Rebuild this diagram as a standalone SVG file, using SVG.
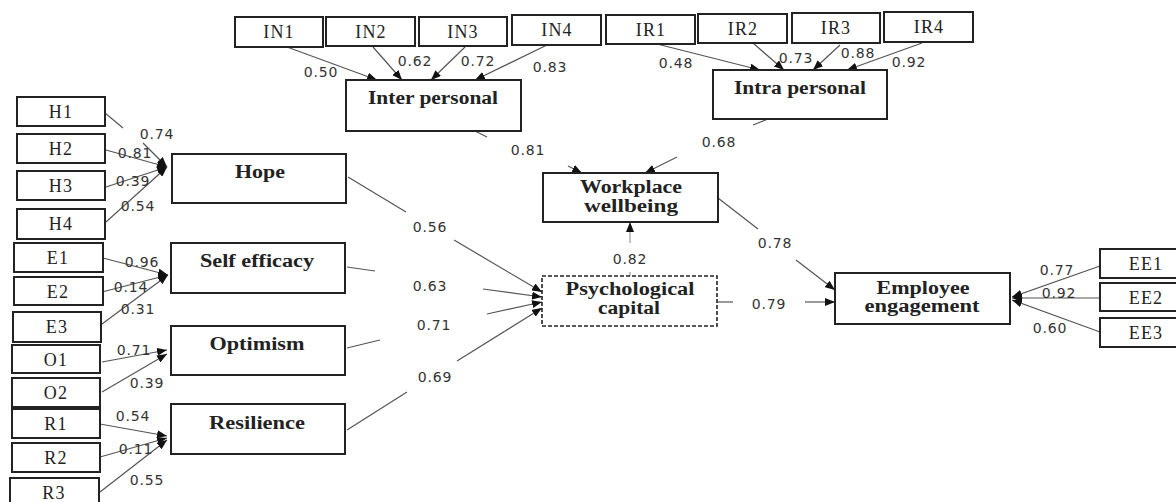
<svg xmlns="http://www.w3.org/2000/svg" width="1176" height="502" viewBox="0 0 1176 502">
<style>
.box{fill:#fff;stroke:#222;stroke-width:2}
.dash{fill:#fff;stroke:#222;stroke-width:1.6;stroke-dasharray:4 2}
.ind{font-family:"Liberation Serif",serif;font-size:18px;fill:#222;text-anchor:middle;letter-spacing:1.2px}
.lat{font-family:"Liberation Serif",serif;font-size:18px;font-weight:bold;fill:#222;text-anchor:middle}
.num{font-family:"DejaVu Sans",sans-serif;font-size:14px;fill:#333;text-anchor:middle;letter-spacing:0.8px}
.ln{stroke:#555;stroke-width:1.2;fill:none}
.ar{marker-end:url(#ah)}
</style>
<defs>
<marker id="ah" markerUnits="userSpaceOnUse" markerWidth="10" markerHeight="8" refX="10" refY="4" orient="auto">
<path d="M0,0 L10,4 L0,8 z" fill="#111"/>
</marker>
</defs>
<rect width="1176" height="502" fill="#fff"/>

<g id="connectors">
<line class="ln ar" x1="287" y1="47" x2="377" y2="80"/>
<line class="ln ar" x1="373" y1="47" x2="402" y2="80"/>
<line class="ln ar" x1="465" y1="47" x2="431" y2="80"/>
<line class="ln ar" x1="547" y1="45" x2="475" y2="80"/>
<line class="ln ar" x1="657" y1="44" x2="760" y2="70"/>
<line class="ln ar" x1="753" y1="43" x2="784" y2="70"/>
<line class="ln ar" x1="840" y1="45" x2="813" y2="70"/>
<line class="ln ar" x1="922" y1="43" x2="847" y2="70"/>
<line class="ln" x1="475" y1="131" x2="487" y2="137"/>
<line class="ln ar" x1="568" y1="166" x2="582" y2="173"/>
<line class="ln" x1="753" y1="125" x2="768" y2="119"/>
<line class="ln ar" x1="677" y1="157" x2="645" y2="173"/>
<line class="ln" x1="718" y1="198" x2="758" y2="229"/>
<line class="ln ar" x1="796" y1="260" x2="835" y2="290"/>
<line class="ln" x1="717" y1="302" x2="733" y2="302"/>
<line class="ln ar" x1="805" y1="302" x2="835" y2="302"/>
<line class="ln" x1="630" y1="276" x2="630" y2="272" style="stroke:#999"/>
<line class="ln ar" x1="630" y1="243" x2="630" y2="222" style="stroke:#999"/>
<line class="ln" x1="105" y1="113" x2="123" y2="128"/>
<line class="ln ar" x1="143" y1="143" x2="167" y2="167"/>
<line class="ln ar" x1="106" y1="150" x2="167" y2="167"/>
<line class="ln ar" x1="106" y1="187" x2="167" y2="167"/>
<line class="ln ar" x1="106" y1="222" x2="167" y2="167"/>
<line class="ln" x1="348" y1="177" x2="406" y2="212"/>
<line class="ln ar" x1="454" y1="240" x2="542" y2="292"/>
<line class="ln ar" x1="103" y1="258" x2="168" y2="275"/>
<line class="ln ar" x1="102" y1="292" x2="168" y2="275"/>
<line class="ln ar" x1="102" y1="324" x2="168" y2="275"/>
<line class="ln" x1="347" y1="267" x2="375" y2="271"/>
<line class="ln ar" x1="483" y1="289" x2="542" y2="297"/>
<line class="ln ar" x1="102" y1="362" x2="167" y2="350"/>
<line class="ln ar" x1="102" y1="392" x2="167" y2="354"/>
<line class="ln" x1="347" y1="348" x2="380" y2="340"/>
<line class="ln ar" x1="487" y1="314" x2="542" y2="302"/>
<line class="ln ar" x1="100" y1="424" x2="167" y2="436"/>
<line class="ln ar" x1="100" y1="457" x2="167" y2="438"/>
<line class="ln ar" x1="100" y1="492" x2="167" y2="440"/>
<line class="ln" x1="347" y1="430" x2="407" y2="392"/>
<line class="ln ar" x1="457" y1="361" x2="542" y2="308"/>
<line class="ln ar" x1="1100" y1="266" x2="1012" y2="297"/>
<line class="ln ar" x1="1100" y1="298" x2="1012" y2="298"/>
<line class="ln ar" x1="1100" y1="332" x2="1012" y2="300"/>
</g>

<g id="labels">
<text class="num" x="321" y="77">0.50</text>
<text class="num" x="415" y="66">0.62</text>
<text class="num" x="478" y="66">0.72</text>
<text class="num" x="550" y="72">0.83</text>
<text class="num" x="676" y="68">0.48</text>
<text class="num" x="796" y="63">0.73</text>
<text class="num" x="858" y="58">0.88</text>
<text class="num" x="909" y="67">0.92</text>
<text class="num" x="528" y="155">0.81</text>
<text class="num" x="719" y="147">0.68</text>
<text class="num" x="157" y="139">0.74</text>
<text class="num" x="135" y="158">0.81</text>
<text class="num" x="133" y="186">0.39</text>
<text class="num" x="138" y="211">0.54</text>
<text class="num" x="142" y="267">0.96</text>
<text class="num" x="131" y="292">0.14</text>
<text class="num" x="138" y="314">0.31</text>
<text class="num" x="134" y="355">0.71</text>
<text class="num" x="147" y="388">0.39</text>
<text class="num" x="133" y="421">0.54</text>
<text class="num" x="136" y="454">0.11</text>
<text class="num" x="147" y="485">0.55</text>
<text class="num" x="430" y="232">0.56</text>
<text class="num" x="430" y="291">0.63</text>
<text class="num" x="434" y="330">0.71</text>
<text class="num" x="435" y="382">0.69</text>
<text class="num" x="630" y="264">0.82</text>
<text class="num" x="775" y="248">0.78</text>
<text class="num" x="769" y="309">0.79</text>
<text class="num" x="1057" y="275">0.77</text>
<text class="num" x="1059" y="298">0.92</text>
<text class="num" x="1050" y="333">0.60</text>
</g>

<g id="IN1"><rect class="box" x="235" y="17" width="88" height="30"/><text class="ind" x="279" y="38">IN1</text></g>
<g id="IN2"><rect class="box" x="326" y="17" width="89" height="29"/><text class="ind" x="371" y="38">IN2</text></g>
<g id="IN3"><rect class="box" x="419" y="17" width="88" height="29"/><text class="ind" x="463" y="38">IN3</text></g>
<g id="IN4"><rect class="box" x="512" y="15" width="89" height="30"/><text class="ind" x="557" y="36">IN4</text></g>
<g id="IR1"><rect class="box" x="606" y="15" width="89" height="29"/><text class="ind" x="651" y="36">IR1</text></g>
<g id="IR2"><rect class="box" x="698" y="14" width="89" height="29"/><text class="ind" x="743" y="35">IR2</text></g>
<g id="IR3"><rect class="box" x="792" y="13" width="88" height="30"/><text class="ind" x="836" y="34">IR3</text></g>
<g id="IR4"><rect class="box" x="884" y="12" width="89" height="30"/><text class="ind" x="929" y="33">IR4</text></g>

<g id="H1"><rect class="box" x="17" y="97" width="88" height="29"/><text class="ind" x="61" y="118">H1</text></g>
<g id="H2"><rect class="box" x="17" y="134" width="88" height="29"/><text class="ind" x="61" y="155">H2</text></g>
<g id="H3"><rect class="box" x="17" y="171" width="88" height="29"/><text class="ind" x="61" y="192">H3</text></g>
<g id="H4"><rect class="box" x="17" y="209" width="88" height="30"/><text class="ind" x="61" y="230">H4</text></g>
<g id="E1"><rect class="box" x="14" y="243" width="89" height="29"/><text class="ind" x="58" y="264">E1</text></g>
<g id="E2"><rect class="box" x="14" y="277" width="89" height="28"/><text class="ind" x="58" y="298">E2</text></g>
<g id="E3"><rect class="box" x="13" y="312" width="88" height="30"/><text class="ind" x="57" y="333">E3</text></g>
<g id="O1"><rect class="box" x="12" y="345" width="88" height="28"/><text class="ind" x="56" y="366">O1</text></g>
<g id="O2"><rect class="box" x="12" y="378" width="88" height="29"/><text class="ind" x="56" y="399">O2</text></g>
<g id="R1"><rect class="box" x="12" y="409" width="88" height="29"/><text class="ind" x="56" y="430">R1</text></g>
<g id="R2"><rect class="box" x="12" y="443" width="88" height="29"/><text class="ind" x="56" y="464">R2</text></g>
<g id="R3"><rect class="box" x="10" y="478" width="89" height="30"/><text class="ind" x="54" y="499">R3</text></g>

<g id="EE1"><rect class="box" x="1100" y="249" width="90" height="29"/><text class="ind" x="1146" y="270">EE1</text></g>
<g id="EE2"><rect class="box" x="1100" y="283" width="90" height="28"/><text class="ind" x="1146" y="304">EE2</text></g>
<g id="EE3"><rect class="box" x="1100" y="318" width="90" height="29"/><text class="ind" x="1146" y="339">EE3</text></g>

<g id="InterPersonal"><rect class="box" x="346" y="80" width="175" height="51"/><text class="lat" x="433" y="104" textLength="130" lengthAdjust="spacingAndGlyphs">Inter personal</text></g>
<g id="IntraPersonal"><rect class="box" x="713" y="70" width="174" height="49"/><text class="lat" x="800" y="94" textLength="132" lengthAdjust="spacingAndGlyphs">Intra personal</text></g>
<g id="Hope"><rect class="box" x="172" y="154" width="174" height="49"/><text class="lat" x="260" y="178" textLength="50" lengthAdjust="spacingAndGlyphs">Hope</text></g>
<g id="SelfEfficacy"><rect class="box" x="171" y="243" width="174" height="50"/><text class="lat" x="257" y="267" textLength="114" lengthAdjust="spacingAndGlyphs">Self efficacy</text></g>
<g id="Optimism"><rect class="box" x="171" y="326" width="174" height="49"/><text class="lat" x="257" y="350" textLength="95" lengthAdjust="spacingAndGlyphs">Optimism</text></g>
<g id="Resilience"><rect class="box" x="171" y="404" width="174" height="50"/><text class="lat" x="257" y="429" textLength="96" lengthAdjust="spacingAndGlyphs">Resilience</text></g>
<g id="WorkplaceWellbeing"><rect class="box" x="543" y="173" width="175" height="49"/><text class="lat" x="631" y="193" textLength="102" lengthAdjust="spacingAndGlyphs">Workplace</text><text class="lat" x="631" y="212" textLength="94" lengthAdjust="spacingAndGlyphs">wellbeing</text></g>
<g id="PsychologicalCapital"><rect class="dash" x="542" y="276" width="175" height="50"/><text class="lat" x="630" y="295" textLength="129" lengthAdjust="spacingAndGlyphs">Psychological</text><text class="lat" x="629" y="314" textLength="62" lengthAdjust="spacingAndGlyphs">capital</text></g>
<g id="EmployeeEngagement"><rect class="box" x="835" y="273" width="175" height="51"/><text class="lat" x="923" y="294" textLength="93" lengthAdjust="spacingAndGlyphs">Employee</text><text class="lat" x="922" y="312" textLength="115" lengthAdjust="spacingAndGlyphs">engagement</text></g>
</svg>
